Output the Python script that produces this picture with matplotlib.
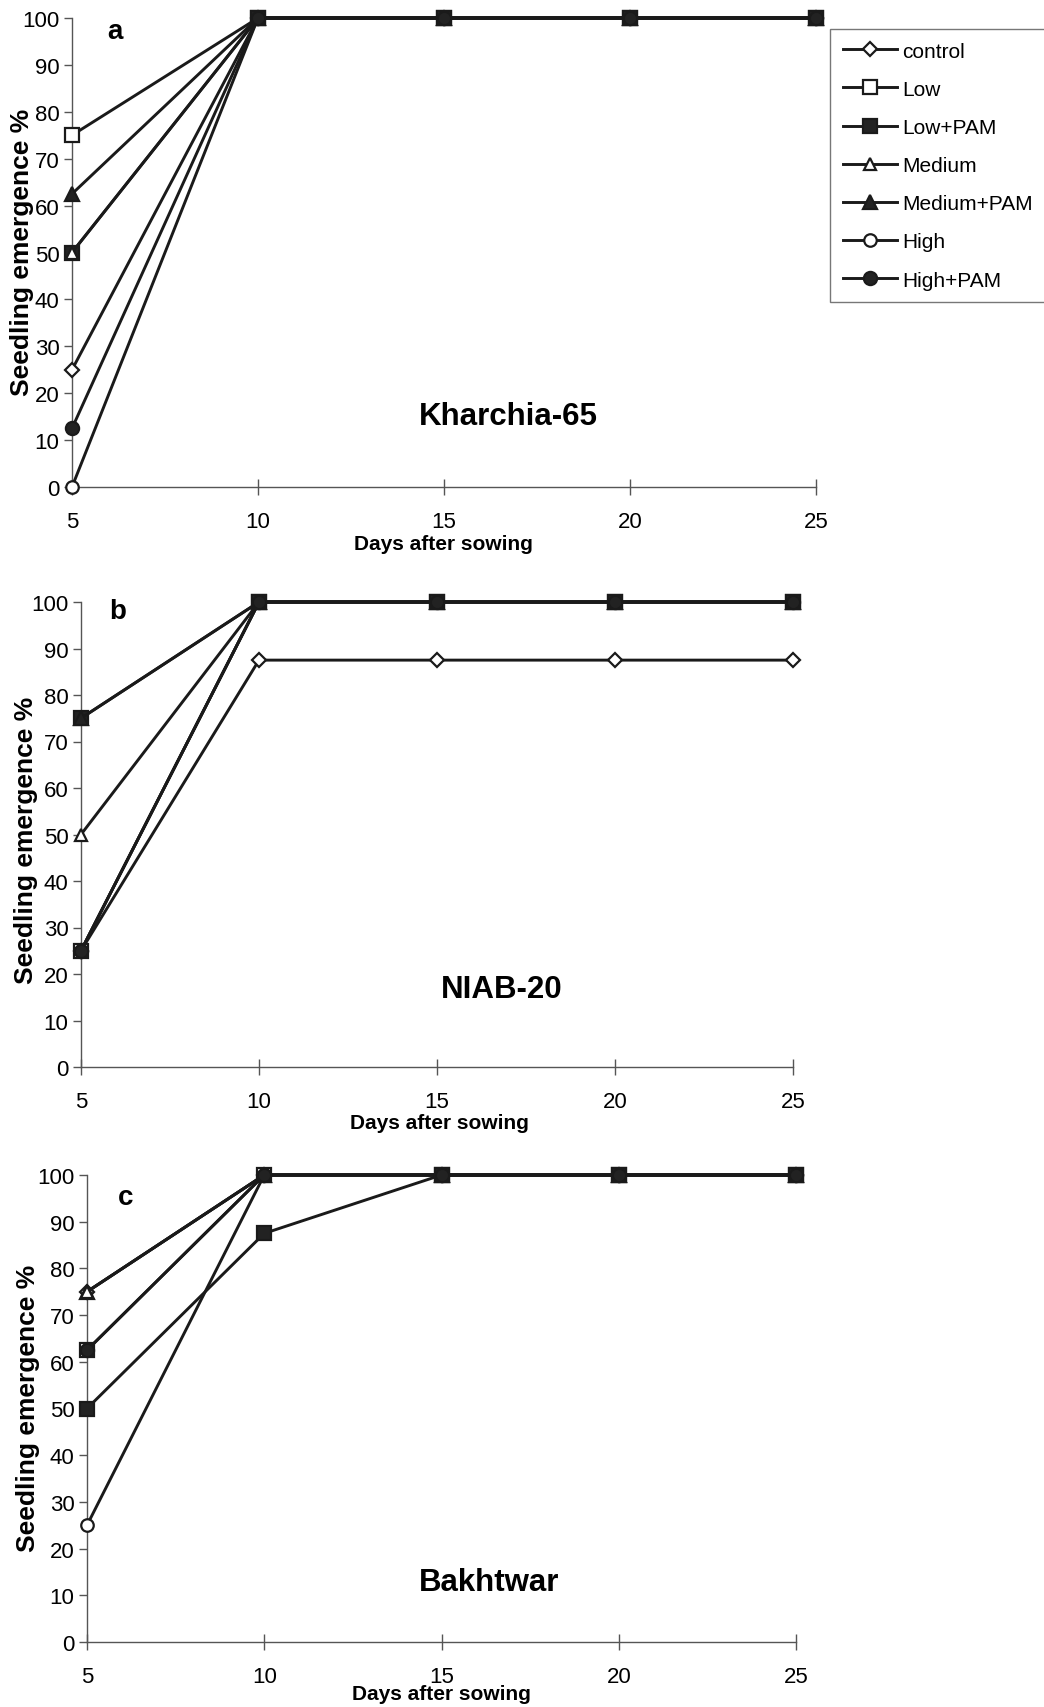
import matplotlib
matplotlib.use("Agg")
import matplotlib.pyplot as plt

plt.rcParams['font.family'] = ['Liberation Sans', 'DejaVu Sans']

days = [5, 10, 15, 20, 25]
treatments = ["control", "Low", "Low+PAM", "Medium", "Medium+PAM", "High", "High+PAM"]

# Seedling emergence (%) per treatment, one list per cultivar
kharchia = {
    "control":    [25, 100, 100, 100, 100],
    "Low":        [75, 100, 100, 100, 100],
    "Low+PAM":    [50, 100, 100, 100, 100],
    "Medium":     [50, 100, 100, 100, 100],
    "Medium+PAM": [62.5, 100, 100, 100, 100],
    "High":       [0, 100, 100, 100, 100],
    "High+PAM":   [12.5, 100, 100, 100, 100],
}
niab = {
    "control":    [25, 87.5, 87.5, 87.5, 87.5],
    "Low":        [25, 100, 100, 100, 100],
    "Low+PAM":    [75, 100, 100, 100, 100],
    "Medium":     [50, 100, 100, 100, 100],
    "Medium+PAM": [75, 100, 100, 100, 100],
    "High":       [25, 100, 100, 100, 100],
    "High+PAM":   [25, 100, 100, 100, 100],
}
bakhtwar = {
    "control":    [75, 100, 100, 100, 100],
    "Low":        [62.5, 100, 100, 100, 100],
    "Low+PAM":    [50, 87.5, 100, 100, 100],
    "Medium":     [75, 100, 100, 100, 100],
    "Medium+PAM": [75, 100, 100, 100, 100],
    "High":       [25, 100, 100, 100, 100],
    "High+PAM":   [62.5, 100, 100, 100, 100],
}

panel_letters = ["a", "b", "c"]
cultivars = ["Kharchia-65", "NIAB-20", "Bakhtwar"]
y_ticks = list(range(0, 101, 10))
x_ticks = [5, 10, 15, 20, 25]

styles = {
    "control":    dict(marker="D", mfc="white", ms=7.5),
    "Low":        dict(marker="s", mfc="white", ms=9.5),
    "Low+PAM":    dict(marker="s", mfc="#222222", ms=9.5),
    "Medium":     dict(marker="^", mfc="white", ms=9),
    "Medium+PAM": dict(marker="^", mfc="#222222", ms=9.5),
    "High":       dict(marker="o", mfc="white", ms=9),
    "High+PAM":   dict(marker="o", mfc="#222222", ms=9.5),
}

# drawing order of the series in each panel (later ones sit on top)
draw_orders = [
    treatments,
    treatments,
    ["control", "Low", "Low+PAM", "Medium+PAM", "Medium", "High", "High+PAM"],
]

W, H = 1044, 1708
fig = plt.figure(figsize=(W / 100, H / 100), dpi=100)
fig.patch.set_facecolor("white")

# pixel boxes: (left, top, right, bottom) of each plotting area
boxes = [(72, 19, 816, 488), (81, 603, 793, 1068), (87, 1176, 796, 1643)]
letter_pos = [(115, 32), (118, 612), (126, 1198)]
name_pos = [(508, 417), (502, 990), (489, 1583)]
ylabel_pos = [(22, 252), (26, 840), (28, 1408)]
xlabel_pos = [(443, 545), (439, 1124), (441, 1695)]
datasets = [kharchia, niab, bakhtwar]

axis_color = "#555555"
legend_handles = {}

for i, (data, box) in enumerate(zip(datasets, boxes)):
    l, t, r, b = box
    ax = fig.add_axes([l / W, 1 - b / H, (r - l) / W, (b - t) / H])
    for z, name in enumerate(draw_orders[i]):
        st = styles[name]
        h, = ax.plot(days, data[name], color="#1a1a1a", lw=2.1,
                     marker=st["marker"], ms=st["ms"], mfc=st["mfc"],
                     mec="#1a1a1a", mew=1.6, clip_on=False, label=name,
                     zorder=3 + z * 0.1)
        if i == 0:
            legend_handles[name] = h
    ax.set_xlim(5, 25)
    ax.set_ylim(0, 100)
    ax.set_xticks(x_ticks)
    ax.set_yticks(y_ticks)
    for side in ("top", "right"):
        ax.spines[side].set_visible(False)
    for side in ("left", "bottom"):
        ax.spines[side].set_color(axis_color)
        ax.spines[side].set_linewidth(1.0)
    ax.tick_params(axis="y", direction="out", length=6, width=1.0,
                   color=axis_color, labelsize=16, pad=3)
    ax.tick_params(axis="x", direction="inout", length=12, width=1.0,
                   color=axis_color, labelsize=16, pad=11)
    ax.set_facecolor("none")

    fig.text(letter_pos[i][0] / W, 1 - letter_pos[i][1] / H, panel_letters[i],
             fontsize=20, fontweight="bold", ha="center", va="center")
    fig.text(name_pos[i][0] / W, 1 - name_pos[i][1] / H, cultivars[i],
             fontsize=22.5, fontweight="bold", ha="center", va="center")
    fig.text(ylabel_pos[i][0] / W, 1 - ylabel_pos[i][1] / H, "Seedling emergence %",
             fontsize=19, fontweight="bold", rotation=90, ha="center", va="center")
    fig.text(xlabel_pos[i][0] / W, 1 - xlabel_pos[i][1] / H, "Days after sowing",
             fontsize=15, fontweight="bold", ha="center", va="center")

leg = fig.legend(handles=[legend_handles[n] for n in treatments], labels=treatments,
                 loc="upper left", bbox_to_anchor=(830 / W, 1 - 30 / H),
                 fontsize=15, frameon=True, fancybox=False, framealpha=1,
                 edgecolor="#777777", handlelength=2.6, handletextpad=0.25,
                 labelspacing=0.92, borderpad=0.6, borderaxespad=0)
leg.get_frame().set_linewidth(1.0)

fig.savefig("out.png", dpi=100, facecolor="white")
